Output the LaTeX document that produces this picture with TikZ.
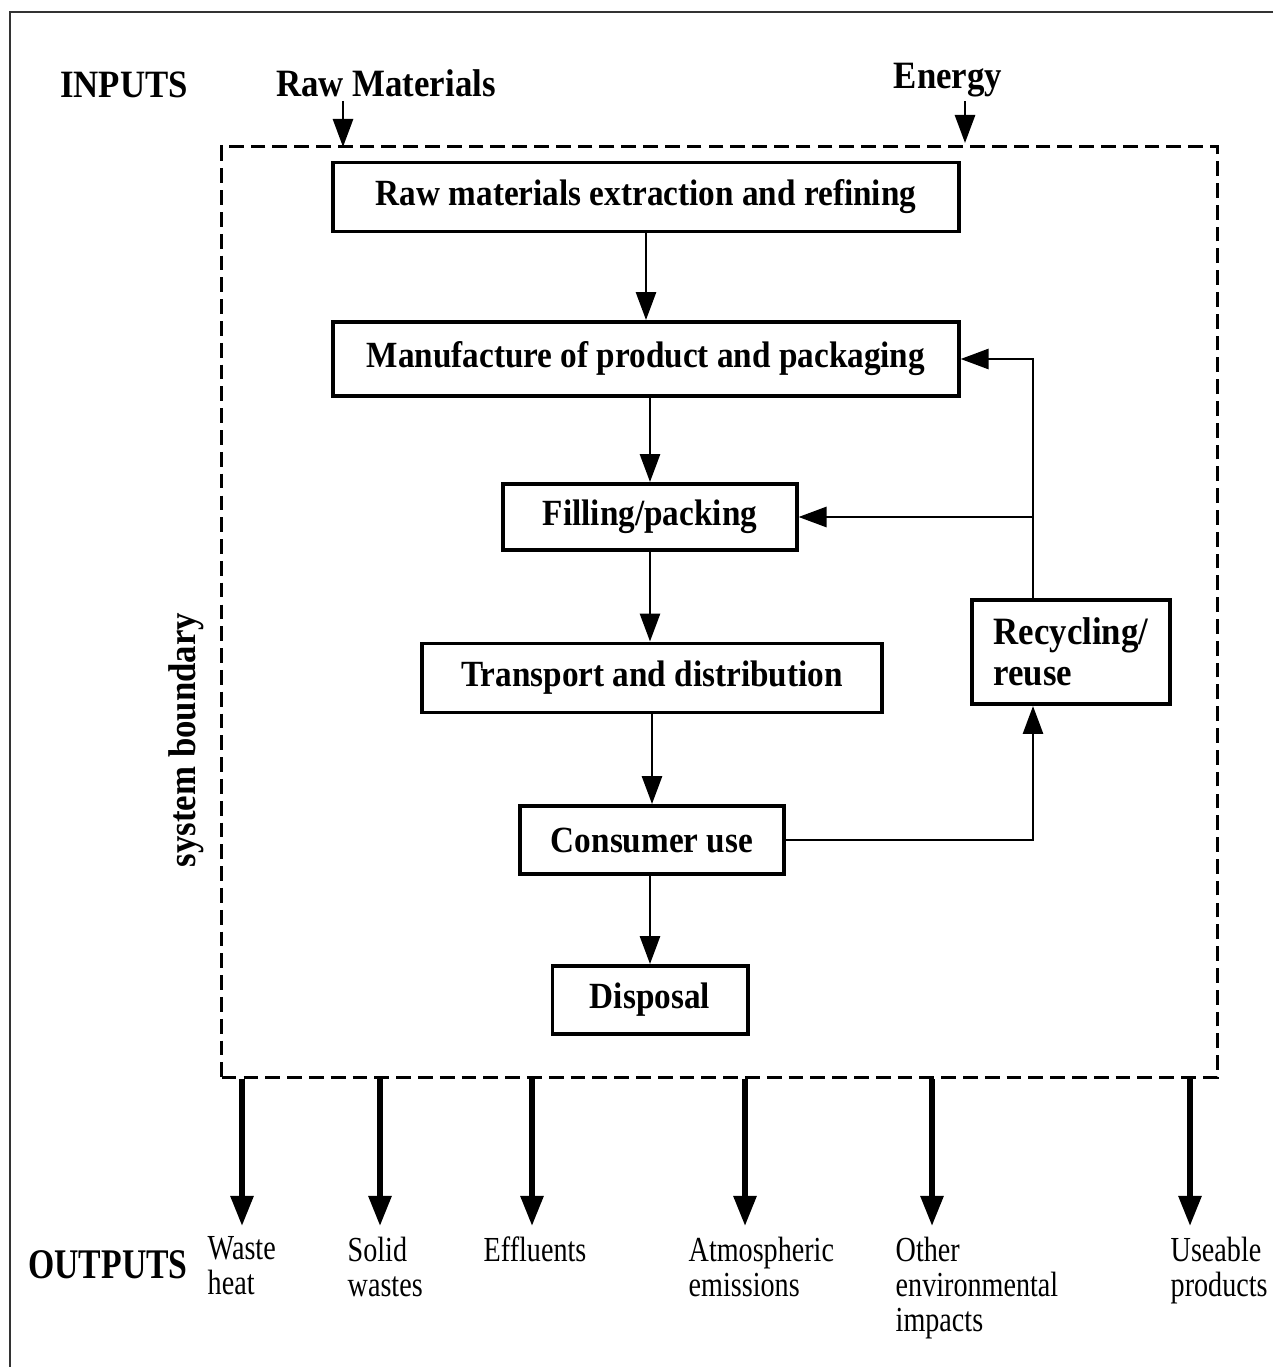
\documentclass[tikz,border=0pt]{standalone}
\usepackage{fontspec}
\setmainfont{Liberation Serif}
\newfontfamily\narrowfont[FakeStretch=0.9]{Liberation Serif}
\newfontfamily\outfont[FakeStretch=0.8]{Liberation Serif}
\usetikzlibrary{arrows.meta, positioning}

\tikzset{
	stage/.style={draw, line width=1.1pt, minimum height=0.69cm, inner sep=2pt,
		font=\narrowfont\bfseries\fontsize{10.5}{12}\selectfont},
	flow/.style={-{Triangle[length=2.8mm,width=2mm]}, line width=0.8pt},
	outflow/.style={-{Triangle[length=3mm,width=2.2mm]}, line width=1.6pt},
	outlabel/.style={font=\outfont\fontsize{10}{10}\selectfont, align=left,
		anchor=north west, inner sep=0pt},
	headlabel/.style={font=\narrowfont\bfseries\fontsize{11}{12}\selectfont, inner sep=1pt},
	boundary/.style={draw, dash pattern=on 4.2pt off 2pt, line width=1pt}
}

\begin{document}
\begin{tikzpicture}[x=0.01cm, y=-0.01cm]
		\useasboundingbox (0,0) rectangle (1273,1367);
		% 外框
		\draw[line width=0.8pt, black!80] (1273,12) -- (10,12) -- (10,1367);
		% 系统边界
		\node[boundary, minimum width=9.95cm, minimum height=9.3cm] (sysb) at (719.5,612) {};
		\node[headlabel, rotate=90] (sblabel) at (186,740) {system boundary};
		% 输入
		\node[headlabel] (inputs) at (124,85) {INPUTS};
		\node[headlabel] (rawin) at (386,83) {Raw Materials};
		\node[headlabel] (energy) at (948,80) {Energy};
		\coordinate (rawtop) at (343,147);
		\coordinate (entop) at (965,143);
		\draw[flow] (rawin.south -| rawtop) -- (rawtop);
		\draw[flow] (energy.south -| entop) -- (entop);
		% 生命周期各阶段
		\node[stage, minimum width=6.25cm] (raw) at (646,197) {Raw materials extraction and refining};
		\node[stage, minimum width=6.25cm, minimum height=0.74cm] (manuf) at (646,359) {Manufacture of product and packaging};
		\node[stage, minimum width=2.93cm, minimum height=0.66cm] (fill) at (650,517) {Filling/packing};
		\node[stage, minimum width=4.59cm] (transp) at (652,678) {Transport and distribution};
		\node[stage, minimum width=2.64cm, minimum height=0.68cm] (consumer) at (652,840) {Consumer use};
		\node[stage, minimum width=1.95cm, minimum height=0.68cm] (disposal) at (650,1000) {Disposal};
		\node[stage, minimum width=1.98cm, minimum height=1.04cm, align=left,
			font=\narrowfont\bfseries\fontsize{11}{11.5}\selectfont] (recycle) at (1071,652) {Recycling/\\reuse};
		\draw[flow] (raw.south -| manuf) -- (manuf);
		\draw[flow] (manuf.south -| fill) -- (fill);
		\draw[flow] (fill) -- (fill |- transp.north);
		\draw[flow] (transp) -- (transp |- consumer.north);
		\draw[flow] (consumer.south -| disposal) -- (disposal);
		% 回收环路
		\coordinate (loop) at (1033,0);
		\draw[flow] (consumer.east) -| (recycle.south -| loop);
		\draw[flow] (recycle.north -| loop) |- (fill.east);
		\draw[flow] (recycle.north -| loop) |- (manuf.east);
		% 输出
		\node[headlabel, font=\outfont\bfseries\fontsize{12}{13}\selectfont] (outputs) at (108,1265) {OUTPUTS};
		\foreach \ax/\lx/\txt [count=\i] in {242/207/{Waste\\heat}, 380/347/{Solid\\wastes},
			532/483/{Effluents}, 745/688/{Atmospheric\\emissions},
			932/895/{Other\\environmental\\impacts}, 1190/1170/{Useable\\products}} {
			\node[outlabel] (out\i) at (\lx,1236) {\txt};
			\coordinate (tip\i) at (\ax,1226);
			\draw[outflow] (sysb.south -| tip\i) -- (tip\i);
		}
	\end{tikzpicture}
\end{document}
